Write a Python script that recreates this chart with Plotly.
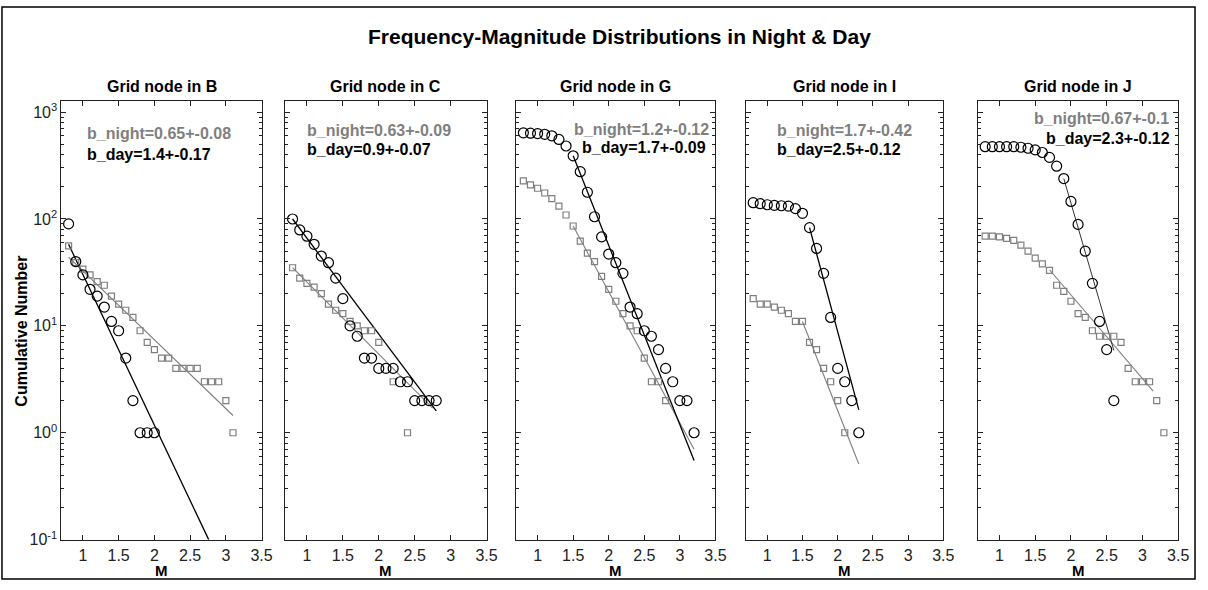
import plotly.graph_objects as go

W, H = 1208, 590

# ---------------- data ----------------
panel_names = ["B", "C", "G", "I", "J"]

B_day_M = [0.8, 0.9, 1.0, 1.1, 1.2, 1.3, 1.4, 1.5, 1.6, 1.7, 1.8, 1.9, 2.0]
B_day_N = [90, 40, 30, 22, 19, 15, 11, 9, 5, 2, 1, 1, 1]
B_night_M = [0.8, 0.9, 1.0, 1.1, 1.2, 1.3, 1.4, 1.5, 1.6, 1.7, 1.8, 1.9, 2.0, 2.1, 2.2, 2.3,
             2.4, 2.5, 2.6, 2.7, 2.8, 2.9, 3.0, 3.1]
B_night_N = [56, 39, 34, 30, 26, 24, 19, 16, 14, 12, 9, 7, 6, 5, 5, 4, 4, 4, 4, 3, 3, 3, 2, 1]

C_day_M = [0.8, 0.9, 1.0, 1.1, 1.2, 1.3, 1.4, 1.5, 1.6, 1.7, 1.8, 1.9, 2.0, 2.1, 2.2, 2.3,
           2.4, 2.5, 2.6, 2.7, 2.8]
C_day_N = [100, 79, 69, 58, 45, 39, 28, 18, 10, 8, 5, 5, 4, 4, 4, 3, 3, 2, 2, 2, 2]
C_night_M = [0.8, 0.9, 1.0, 1.1, 1.2, 1.3, 1.4, 1.5, 1.6, 1.7, 1.8, 1.9, 2.0, 2.2, 2.4]
C_night_N = [35, 28, 25, 23, 20, 16, 14, 13, 11, 10, 9, 9, 7, 3, 1]

G_day_M = [0.8, 0.9, 1.0, 1.1, 1.2, 1.3, 1.4, 1.5, 1.6, 1.7, 1.8, 1.9, 2.0, 2.1, 2.2, 2.3,
           2.4, 2.5, 2.6, 2.7, 2.8, 2.9, 3.0, 3.1, 3.2]
G_day_N = [640, 635, 630, 620, 600, 555, 482, 390, 277, 178, 105, 68, 47, 39, 31, 15,
           13, 9, 8, 6, 4, 3, 2, 2, 1]
G_night_M = [0.8, 0.9, 1.0, 1.1, 1.2, 1.3, 1.4, 1.5, 1.6, 1.7, 1.8, 1.9, 2.0, 2.1, 2.2, 2.3,
             2.4, 2.5, 2.6, 2.7, 2.8]
G_night_N = [227, 209, 194, 175, 155, 132, 109, 86, 62, 48, 40, 29, 22, 17, 13, 10, 9, 5, 3, 3, 2]

I_day_M = [0.8, 0.9, 1.0, 1.1, 1.2, 1.3, 1.4, 1.5, 1.6, 1.7, 1.8, 1.9, 2.0, 2.1, 2.2, 2.3]
I_day_N = [142, 139, 136, 134, 133, 132, 125, 113, 83, 53, 31, 12, 4, 3, 2, 1]
I_night_M = [0.8, 0.9, 1.0, 1.1, 1.2, 1.3, 1.4, 1.5, 1.6, 1.7, 1.8, 1.9, 2.0, 2.1]
I_night_N = [18, 16, 16, 15, 14, 13, 11, 11, 7, 6, 4, 3, 2, 1]

J_day_M = [0.8, 0.9, 1.0, 1.1, 1.2, 1.3, 1.4, 1.5, 1.6, 1.7, 1.8, 1.9, 2.0, 2.1, 2.2, 2.3,
           2.4, 2.5, 2.6]
J_day_N = [475, 475, 475, 475, 475, 469, 459, 443, 419, 377, 312, 239, 146, 89, 50, 25, 11, 6, 2]
J_night_M = [0.8, 0.9, 1.0, 1.1, 1.2, 1.3, 1.4, 1.5, 1.6, 1.7, 1.8, 1.9, 2.0, 2.1, 2.2, 2.3,
             2.4, 2.5, 2.6, 2.7, 2.8, 2.9, 3.0, 3.1, 3.2, 3.3]
J_night_N = [69, 69, 68, 66, 63, 57, 50, 43, 38, 33, 24, 21, 17, 13, 12, 9, 8, 8, 8, 7,
             4, 3, 3, 3, 2, 1]

# fitted Gutenberg-Richter lines (end points)
B_day_fit_M, B_day_fit_N = [0.8, 2.76], [58, 0.1]
B_night_fit_M, B_night_fit_N = [0.8, 3.1], [44, 1.45]
C_day_fit_M, C_day_fit_N = [0.8, 2.8], [100, 1.6]
C_night_fit_M, C_night_fit_N = [0.8, 2.75], [35, 1.7]
G_day_fit_M, G_day_fit_N = [1.5, 3.2], [390, 0.55]
G_night_fit_M, G_night_fit_N = [1.5, 3.2], [86, 0.7]
I_day_fit_M, I_day_fit_N = [1.6, 2.3], [83, 1.64]
I_night_fit_M, I_night_fit_N = [1.5, 2.3], [11, 0.51]
J_day_fit_M, J_day_fit_N = [1.9, 2.6], [239, 5.9]
J_night_fit_M, J_night_fit_N = [1.7, 3.15], [33.5, 2.45]

b_night_labels = ["b_night=0.65+-0.08", "b_night=0.63+-0.09", "b_night=1.2+-0.12",
                  "b_night=1.7+-0.42", "b_night=0.67+-0.1"]
b_day_labels = ["b_day=1.4+-0.17", "b_day=0.9+-0.07", "b_day=1.7+-0.09",
                "b_day=2.5+-0.12", "b_day=2.3+-0.12"]

x_ticks = [1, 1.5, 2, 2.5, 3, 3.5]
x_ticktext = ["1", "1.5", "2", "2.5", "3", "3.5"]
y_ticks = [0.1, 1, 10, 100, 1000]
y_ticktext = ["10<sup>-1</sup>", "10<sup>0</sup>", "10<sup>1</sup>", "10<sup>2</sup>", "10<sup>3</sup>"]

data = {
    "B": (B_day_M, B_day_N, B_night_M, B_night_N, B_day_fit_M, B_day_fit_N, B_night_fit_M, B_night_fit_N),
    "C": (C_day_M, C_day_N, C_night_M, C_night_N, C_day_fit_M, C_day_fit_N, C_night_fit_M, C_night_fit_N),
    "G": (G_day_M, G_day_N, G_night_M, G_night_N, G_day_fit_M, G_day_fit_N, G_night_fit_M, G_night_fit_N),
    "I": (I_day_M, I_day_N, I_night_M, I_night_N, I_day_fit_M, I_day_fit_N, I_night_fit_M, I_night_fit_N),
    "J": (J_day_M, J_day_N, J_night_M, J_night_N, J_day_fit_M, J_day_fit_N, J_night_fit_M, J_night_fit_N),
}

# ---------------- layout helpers (pixel -> paper) ----------------
def px(x):
    return x / W

def py(y):
    return 1 - y / H

panel_px = [(62, 264), (288, 491), (521, 722), (753, 952), (987, 1189)]
plot_top, plot_bot = 103, 548

GRAY = "#7f7f7f"
AXC = "#222222"
FONT = "Arial, Liberation Sans, sans-serif"

night_pos = [(86, "left", 136), (308, "left", 133), (718, "right", 131), (782, "left", 133), (1182, "right", 120)]
day_pos = [(86, "left", 157), (308, "left", 152), (585, "left", 150), (782, "left", 152), (1054, "left", 141)]

minor_vals = [k * 10 ** e for e in range(-1, 3) for k in range(2, 10)]

fig = go.Figure()
annotations = []

for i, name in enumerate(panel_names):
    dM, dN, nM, nN, dfM, dfN, nfM, nfN = data[name]
    xa = "x" if i == 0 else f"x{i+1}"
    ya = "y" if i == 0 else f"y{i+1}"
    lw_fit = 1.0 if name == "J" else 1.3
    day_line_col = "#333333" if name == "J" else "black"
    fig.add_trace(go.Scatter(x=nfM, y=nfN, mode="lines", line=dict(color=GRAY, width=1.1),
                             xaxis=xa, yaxis=ya, showlegend=False, hoverinfo="skip"))
    fig.add_trace(go.Scatter(x=dfM, y=dfN, mode="lines", line=dict(color=day_line_col, width=lw_fit),
                             xaxis=xa, yaxis=ya, showlegend=False, hoverinfo="skip"))
    fig.add_trace(go.Scatter(x=nM, y=nN, mode="markers",
                             marker=dict(symbol="square-open", size=6, color=GRAY, line=dict(width=1.2, color=GRAY)),
                             xaxis=xa, yaxis=ya, showlegend=False, cliponaxis=False))
    fig.add_trace(go.Scatter(x=dM, y=dN, mode="markers",
                             marker=dict(symbol="circle-open", size=10, color="black", line=dict(width=1.2, color="black")),
                             xaxis=xa, yaxis=ya, showlegend=False, cliponaxis=False))

    x0, x1 = panel_px[i]
    xkey = "xaxis" if i == 0 else f"xaxis{i+1}"
    ykey = "yaxis" if i == 0 else f"yaxis{i+1}"
    fig.layout[xkey] = dict(
        domain=[px(x0), px(x1)], anchor=ya, range=[0.7, 3.5],
        tickvals=x_ticks, ticktext=x_ticktext,
        ticks="inside", ticklen=5, tickwidth=1, tickcolor=AXC,
        showline=True, linecolor=AXC, linewidth=1, mirror="ticks",
        showgrid=False, zeroline=False, ticklabelstandoff=1,
        tickfont=dict(family=FONT, size=16, color=AXC),
    )
    fig.layout[ykey] = dict(
        domain=[py(plot_bot), py(plot_top)], anchor=xa, type="log", range=[-1, 3.1],
        tickvals=y_ticks, ticktext=y_ticktext, showticklabels=(i == 0),
        ticks="inside", ticklen=5, tickwidth=1, tickcolor=AXC,
        minor=dict(ticks="inside", ticklen=3, tickwidth=1, tickcolor=AXC, tickvals=minor_vals, showgrid=False),
        showline=True, linecolor=AXC, linewidth=1, mirror="ticks",
        showgrid=False, zeroline=False,
        tickfont=dict(family=FONT, size=16, color=AXC),
    )

    annotations.append(dict(text="<b>Grid node in %s</b>" % name, x=px((x0 + x1) / 2), y=py(88),
                            xref="paper", yref="paper", showarrow=False, xanchor="center", yanchor="middle",
                            font=dict(family=FONT, size=16, color="black")))
    annotations.append(dict(text="<b>M</b>", x=px((x0 + x1) / 2), y=py(579),
                            xref="paper", yref="paper", showarrow=False, xanchor="center", yanchor="middle",
                            font=dict(family=FONT, size=15, color="black")))
    nx, nanc, ny = night_pos[i]
    dx, danc, dy = day_pos[i]
    annotations.append(dict(text="<b>%s</b>" % b_night_labels[i], x=px(nx), y=py(ny),
                            xref="paper", yref="paper", showarrow=False, xanchor=nanc, yanchor="middle",
                            font=dict(family=FONT, size=16, color=GRAY)))
    annotations.append(dict(text="<b>%s</b>" % b_day_labels[i], x=px(dx), y=py(dy),
                            xref="paper", yref="paper", showarrow=False, xanchor=danc, yanchor="middle",
                            font=dict(family=FONT, size=16, color="black")))

annotations.append(dict(text="<b>Frequency-Magnitude Distributions in Night &amp; Day</b>",
                        x=px(625), y=py(37), xref="paper", yref="paper", showarrow=False,
                        xanchor="center", yanchor="middle", font=dict(family=FONT, size=21, color="black")))
annotations.append(dict(text="<b>Cumulative Number</b>", x=px(22), y=py(336), xref="paper", yref="paper",
                        showarrow=False, textangle=-90, xanchor="center", yanchor="middle",
                        font=dict(family=FONT, size=16, color="black")))

fig.update_layout(
    width=W, height=H, margin=dict(l=0, r=0, t=0, b=0),
    paper_bgcolor="white", plot_bgcolor="white",
    showlegend=False, annotations=annotations,
    shapes=[dict(type="rect", xref="paper", yref="paper", x0=px(2), x1=px(1206), y0=py(588), y1=py(7),
                 line=dict(color="black", width=1.5), fillcolor="rgba(0,0,0,0)")],
)

fig.write_html("out.html")
